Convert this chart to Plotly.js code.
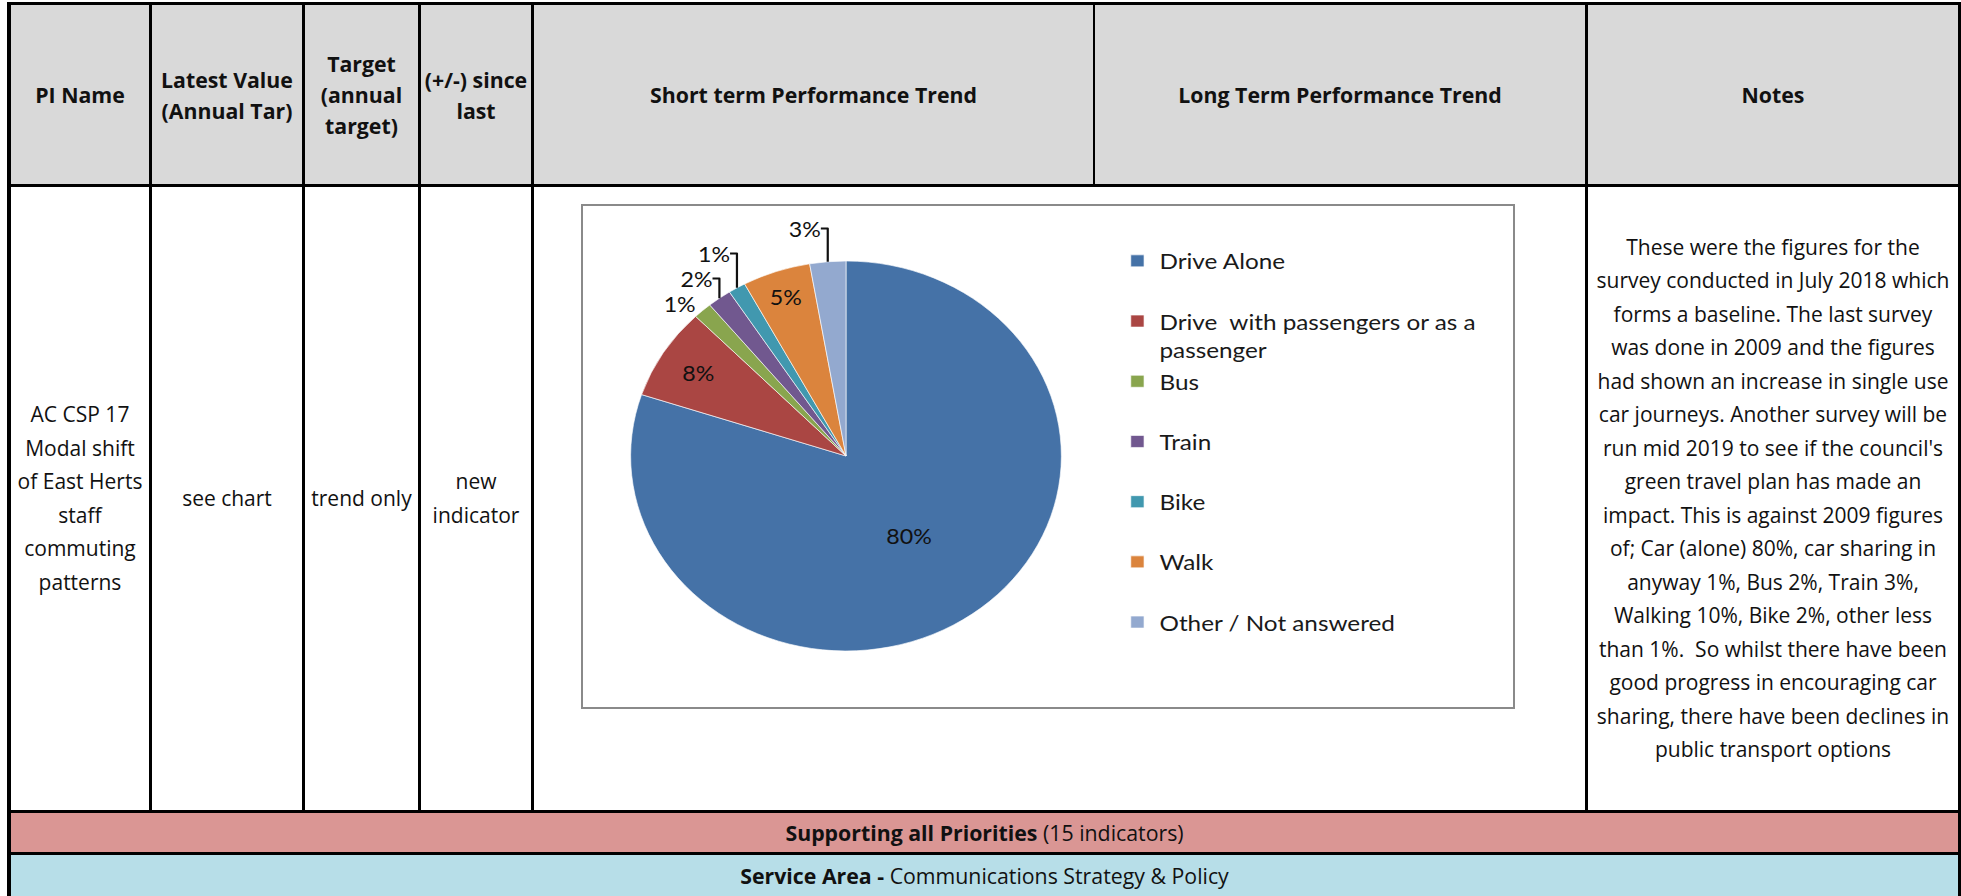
<!DOCTYPE html>
<html>
<head>
<meta charset="utf-8">
<script src="https://cdn.plot.ly/plotly-3.0.1.min.js"></script>
<style>
html,body{margin:0;padding:0;background:#fff;}
body{width:1961px;height:896px;overflow:hidden;position:relative;font-family:"Open Sans",sans-serif;color:#111;}
#frame{position:absolute;left:7px;top:2px;width:1954px;height:894px;background:#000;}
.cell{position:absolute;display:flex;align-items:center;justify-content:center;text-align:center;white-space:nowrap;box-sizing:border-box;}
.hd{top:5px;height:179px;background:#d9d9d9;font-weight:700;font-size:21.3px;line-height:31px;}
.bd{top:187px;height:623px;background:#fff;font-size:21px;line-height:33.5px;}
.band{left:11px;width:1947px;font-size:21.3px;}
#pink{top:813px;height:39px;background:#da9694;}
#blue{top:855px;height:41px;background:#b7dee8;}
#chartbox{position:absolute;left:581px;top:204px;width:934px;height:505px;border:2px solid #8a8a8a;box-sizing:border-box;background:#fff;overflow:hidden;}
#chart{position:absolute;left:0;top:0;width:842px;height:501px;transform:scaleX(1.1045);transform-origin:0 0;}
b{font-weight:700;}
</style>
</head>
<body>
<div id="frame"></div>

<div class="cell hd" style="left:11px;width:138px;">PI Name</div>
<div class="cell hd" style="left:152px;width:150px;">Latest Value<br>(Annual Tar)</div>
<div class="cell hd" style="left:305px;width:113px;">Target<br>(annual<br>target)</div>
<div class="cell hd" style="left:421px;width:110px;">(+/-) since<br>last</div>
<div class="cell hd" style="left:534px;width:559px;">Short term Performance Trend</div>
<div class="cell hd" style="left:1095px;width:490px;">Long Term Performance Trend</div>
<div class="cell hd" style="left:1588px;width:370px;">Notes</div>

<div class="cell bd" style="left:11px;width:138px;">AC CSP 17<br>Modal shift<br>of East Herts<br>staff<br>commuting<br>patterns</div>
<div class="cell bd" style="left:152px;width:150px;">see chart</div>
<div class="cell bd" style="left:305px;width:113px;">trend only</div>
<div class="cell bd" style="left:421px;width:110px;">new<br>indicator</div>
<div class="cell bd" style="left:534px;width:1051px;"></div>
<div class="cell bd" style="left:1588px;width:370px;">These were the figures for the<br>survey conducted in July 2018 which<br>forms a baseline. The last survey<br>was done in 2009 and the figures<br>had shown an increase in single use<br>car journeys. Another survey will be<br>run mid 2019 to see if the council's<br>green travel plan has made an<br>impact. This is against 2009 figures<br>of; Car (alone) 80%, car sharing in<br>anyway 1%, Bus 2%, Train 3%,<br>Walking 10%, Bike 2%, other less<br>than 1%.&nbsp; So whilst there have been<br>good progress in encouraging car<br>sharing, there have been declines in<br>public transport options</div>

<div class="cell band" id="pink"><span><b>Supporting all Priorities</b> (15 indicators)</span></div>
<div class="cell band" id="blue"><span><b>Service Area -</b> Communications Strategy &amp; Policy</span></div>

<div id="chartbox"><div id="chart"></div></div>

<script>
// Chart data
var categories = ['Drive Alone', 'Drive  with passengers or as a passenger', 'Bus', 'Train', 'Bike', 'Walk', 'Other / Not answered'];
var shares = [80.1, 7.6, 1.4, 1.8, 1.3, 5.1, 2.7];

// Styling
var sliceColors = ['#4572A7', '#AA4643', '#89A54E', '#71588F', '#4198AF', '#DB843D', '#93A9CF'];
var labelPlacement = ['inside', 'inside', 'outside', 'outside', 'outside', 'inside', 'outside'];

var legendLabels = categories.map(function (c) {
  var t = c.replace(/  /g, '&nbsp; ');
  if (c.length > 30) {
    var i = t.lastIndexOf(' ');
    return t.slice(0, i) + '<br>' + t.slice(i + 1);
  }
  return t + '<br>&nbsp;';
});

var labelFont = {family: 'Lato, sans-serif', size: 21, color: '#111'};

var trace = {
  type: 'pie',
  labels: legendLabels,
  values: shares,
  sort: false,
  direction: 'clockwise',
  rotation: 0,
  marker: {colors: sliceColors, line: {color: '#ffffff', width: 0.6}},
  texttemplate: '%{percent:.0%}',
  textposition: labelPlacement,
  insidetextorientation: 'horizontal',
  textfont: labelFont,
  insidetextfont: labelFont,
  outsidetextfont: labelFont,
  domain: {x: [0.0512, 0.5144], y: [0.1118, 0.8902]},
  hoverinfo: 'skip'
};

var layout = {
  width: 842,
  height: 501,
  margin: {l: 0, r: 0, t: 0, b: 0},
  paper_bgcolor: '#ffffff',
  showlegend: true,
  font: {family: 'Lato, sans-serif', size: 22, color: '#111'},
  legend: {
    x: 0.5724, y: 0.932, xanchor: 'left', yanchor: 'top',
    valign: 'top', traceorder: 'normal',
    font: {family: 'Lato, sans-serif', size: 22, color: '#1a1a1a'},
    bgcolor: 'rgba(0,0,0,0)'
  }
};

Plotly.newPlot('chart', [trace], layout, {displayModeBar: false, staticPlot: true});
</script>
</body>
</html>
